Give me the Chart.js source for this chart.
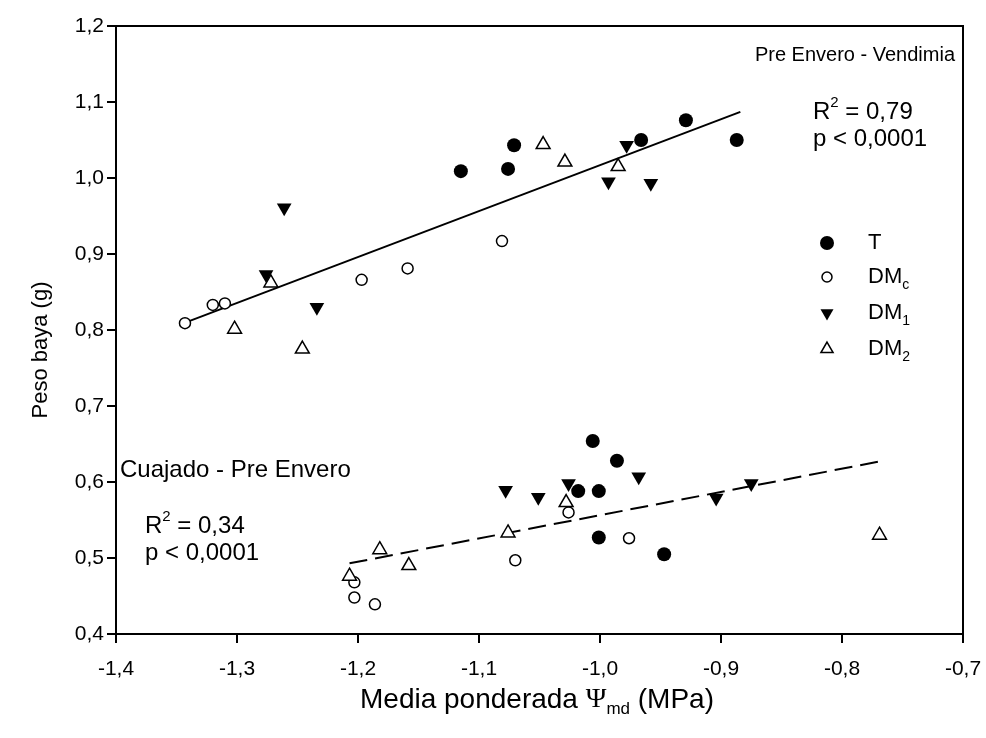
<!DOCTYPE html>
<html>
<head>
<meta charset="utf-8">
<script src="https://cdn.jsdelivr.net/npm/chart.js@4.4.0/dist/chart.umd.min.js"></script>
<style>
  html, body { margin: 0; padding: 0; background: #fff; }
  #wrap { width: 986px; height: 738px; }
</style>
</head>
<body>
<div id="wrap"><canvas id="c" width="986" height="738"></canvas></div>
<script>
// Ψmd medio ponderado (MPa) frente a peso de baya (g), por tratamiento
const tX   = [-1.115, -1.076, -1.071, -0.966, -0.929, -0.887, -1.006, -0.986, -1.018, -1.001, -1.001, -0.947];
const tY   = [ 1.009,  1.012,  1.043,  1.050,  1.076,  1.050,  0.654,  0.628,  0.588,  0.588,  0.527,  0.505];
const dmcX = [-1.343, -1.320, -1.310, -1.197, -1.159, -1.081, -1.203, -1.203, -1.186, -1.070, -1.026, -0.976];
const dmcY = [ 0.809,  0.833,  0.835,  0.866,  0.881,  0.917,  0.468,  0.448,  0.439,  0.497,  0.560,  0.526];
const dm1X = [-1.261, -1.276, -1.234, -0.993, -0.958, -0.978, -1.078, -1.051, -1.026, -0.968, -0.904, -0.875];
const dm1Y = [ 0.961,  0.873,  0.830,  0.995,  0.993,  1.043,  0.589,  0.580,  0.598,  0.607,  0.579,  0.598];
const dm2X = [-1.272, -1.302, -1.246, -1.047, -1.029, -0.985, -1.207, -1.182, -1.158, -1.076, -1.028, -0.769];
const dm2Y = [ 0.862,  0.801,  0.775,  1.044,  1.021,  1.015,  0.476,  0.511,  0.490,  0.533,  0.573,  0.530];

// rectas de regresión (extremos)
const fitSupX = [-1.339, -0.884];
const fitSupY = [ 0.812,  1.087];
const fitInfX = [-1.207, -0.769];
const fitInfY = [ 0.493,  0.627];

const xTicks = [-1.4, -1.3, -1.2, -1.1, -1.0, -0.9, -0.8, -0.7];
const yTicks = [0.4, 0.5, 0.6, 0.7, 0.8, 0.9, 1.0, 1.1, 1.2];

const FONT = "'Liberation Sans', Arial, sans-serif";
const pts = (xs, ys) => xs.map((x, i) => ({ x, y: ys[i] }));
const coma = v => Number(v).toFixed(1).replace('.', ',');

// estilos de los símbolos (datos y leyenda)
const SYM = {
  T:   { pointStyle: 'circle',   radius: 7,   rotation: 0,   bg: '#000', bw: 0 },
  DMc: { pointStyle: 'circle',   radius: 5.5, rotation: 0,   bg: '#fff', bw: 1.5 },
  DM1: { pointStyle: 'triangle', radius: 8.5, rotation: 180, bg: '#000', bw: 0 },
  DM2: { pointStyle: 'triangle', radius: 8,   rotation: 0,   bg: '#fff', bw: 1.5 }
};

function serie(label, data, s, order) {
  return {
    label, data, order,
    pointStyle: s.pointStyle, pointRadius: s.radius, pointRotation: s.rotation,
    pointBackgroundColor: s.bg, pointBorderColor: '#000', pointBorderWidth: s.bw,
    pointHoverRadius: s.radius
  };
}

function recta(data, dash) {
  return {
    label: '', data, showLine: true, order: 10,
    borderColor: '#000', borderWidth: 2, borderDash: dash,
    pointRadius: 0, pointHoverRadius: 0, fill: false
  };
}

// texto con subíndice / superíndice
function txtParts(ctx, parts, x, y, size) {
  let cx = x;
  parts.forEach(p => {
    const sz = p.sub || p.sup ? Math.round(size * 0.62) : size;
    ctx.font = sz + 'px ' + (p.font || FONT);
    const dy = p.sub ? size * 0.35 : p.sup ? -size * 0.38 : 0;
    ctx.fillText(p.t, cx, y + dy);
    cx += ctx.measureText(p.t).width;
  });
  return cx - x;
}
function widthParts(ctx, parts, size) {
  let w = 0;
  parts.forEach(p => {
    const sz = p.sub || p.sup ? Math.round(size * 0.62) : size;
    ctx.font = sz + 'px ' + (p.font || FONT);
    w += ctx.measureText(p.t).width;
  });
  return w;
}

function marca(ctx, s, x, y, r) {
  ctx.save();
  ctx.fillStyle = s.bg;
  ctx.strokeStyle = '#000';
  ctx.lineWidth = s.bw;
  Chart.helpers.drawPoint(ctx, { pointStyle: s.pointStyle, radius: r, rotation: s.rotation, borderWidth: s.bw }, x, y);
  ctx.restore();
}

const extras = {
  id: 'extras',
  afterDraw(chart) {
    const { ctx, chartArea: a } = chart;
    ctx.save();
    // marco
    ctx.strokeStyle = '#000';
    ctx.lineWidth = 2;
    ctx.beginPath();
    ctx.moveTo(a.left, a.top); ctx.lineTo(a.right, a.top); ctx.lineTo(a.right, a.bottom);
    ctx.stroke();

    ctx.fillStyle = '#000';
    ctx.textBaseline = 'middle';

    // rótulos de periodo y estadísticos
    ctx.textAlign = 'right';
    ctx.font = '20px ' + FONT;
    ctx.fillText('Pre Envero - Vendimia', 955, 55);
    ctx.textAlign = 'left';
    ctx.font = '24px ' + FONT;
    ctx.fillText('Cuajado - Pre Envero', 120, 470);
    txtParts(ctx, [{ t: 'R' }, { t: '2', sup: true }, { t: ' = 0,79' }], 813, 112, 24);
    ctx.font = '24px ' + FONT;
    ctx.fillText('p < 0,0001', 813, 139);
    txtParts(ctx, [{ t: 'R' }, { t: '2', sup: true }, { t: ' = 0,34' }], 145, 526, 24);
    ctx.font = '24px ' + FONT;
    ctx.fillText('p < 0,0001', 145, 553);

    // leyenda
    const ley = [
      { s: SYM.T,   r: 7,   y: 243, parts: [{ t: 'T' }] },
      { s: SYM.DMc, r: 5,   y: 277, parts: [{ t: 'DM' }, { t: 'c', sub: true }] },
      { s: SYM.DM1, r: 7.5, y: 313, parts: [{ t: 'DM' }, { t: '1', sub: true }] },
      { s: SYM.DM2, r: 7,   y: 349, parts: [{ t: 'DM' }, { t: '2', sub: true }] }
    ];
    ley.forEach(l => {
      marca(ctx, l.s, 827, l.y, l.r);
      ctx.fillStyle = '#000';
      txtParts(ctx, l.parts, 868, l.y, 22);
    });

    // títulos de ejes
    const xt = [{ t: 'Media ponderada ' }, { t: 'Ψ', font: "'Liberation Serif', serif" }, { t: 'md', sub: true }, { t: ' (MPa)' }];
    const w = widthParts(ctx, xt, 28);
    txtParts(ctx, xt, 537 - w / 2, 700, 28);

    ctx.translate(41, 350);
    ctx.rotate(-Math.PI / 2);
    ctx.textAlign = 'center';
    ctx.font = '22px ' + FONT;
    ctx.fillText('Peso baya (g)', 0, 0);
    ctx.restore();
  }
};

// los rótulos de las marcas no deben encoger el área de trazado
function sinMargen(s) {
  s.paddingLeft = 0; s.paddingRight = 0; s.paddingTop = 0; s.paddingBottom = 0;
}

const ejeComun = {
  type: 'linear',
  grid: { display: true, drawOnChartArea: false, drawTicks: true, tickLength: 9, color: '#000', lineWidth: 2 },
  border: { display: true, color: '#000', width: 2 }
};

new Chart(document.getElementById('c'), {
  type: 'scatter',
  data: {
    datasets: [
      recta(pts(fitSupX, fitSupY), []),
      recta(pts(fitInfX, fitInfY), [18, 8]),
      serie('T',   pts(tX, tY),     SYM.T,   4),
      serie('DMc', pts(dmcX, dmcY), SYM.DMc, 3),
      serie('DM1', pts(dm1X, dm1Y), SYM.DM1, 2),
      serie('DM2', pts(dm2X, dm2Y), SYM.DM2, 1)
    ]
  },
  options: {
    responsive: false,
    animation: false,
    devicePixelRatio: 1,
    layout: { padding: { top: 26, right: 23, left: 0, bottom: 0 } },
    plugins: { legend: { display: false }, tooltip: { enabled: false }, title: { display: false } },
    scales: {
      x: {
        ...ejeComun,
        position: 'bottom',
        min: xTicks[0], max: xTicks[xTicks.length - 1],
        afterBuildTicks: s => { s.ticks = xTicks.map(v => ({ value: v })); },
        afterFit: s => { s.height = 104; sinMargen(s); },
        ticks: { color: '#000', padding: 14, maxRotation: 0, font: { family: FONT, size: 21 }, callback: coma }
      },
      y: {
        ...ejeComun,
        position: 'left',
        min: yTicks[0], max: yTicks[yTicks.length - 1],
        afterBuildTicks: s => { s.ticks = yTicks.map(v => ({ value: v })); },
        afterFit: s => { s.width = 116; sinMargen(s); },
        ticks: { color: '#000', padding: 3, font: { family: FONT, size: 21 }, callback: coma }
      }
    }
  },
  plugins: [extras]
});
</script>
</body>
</html>
